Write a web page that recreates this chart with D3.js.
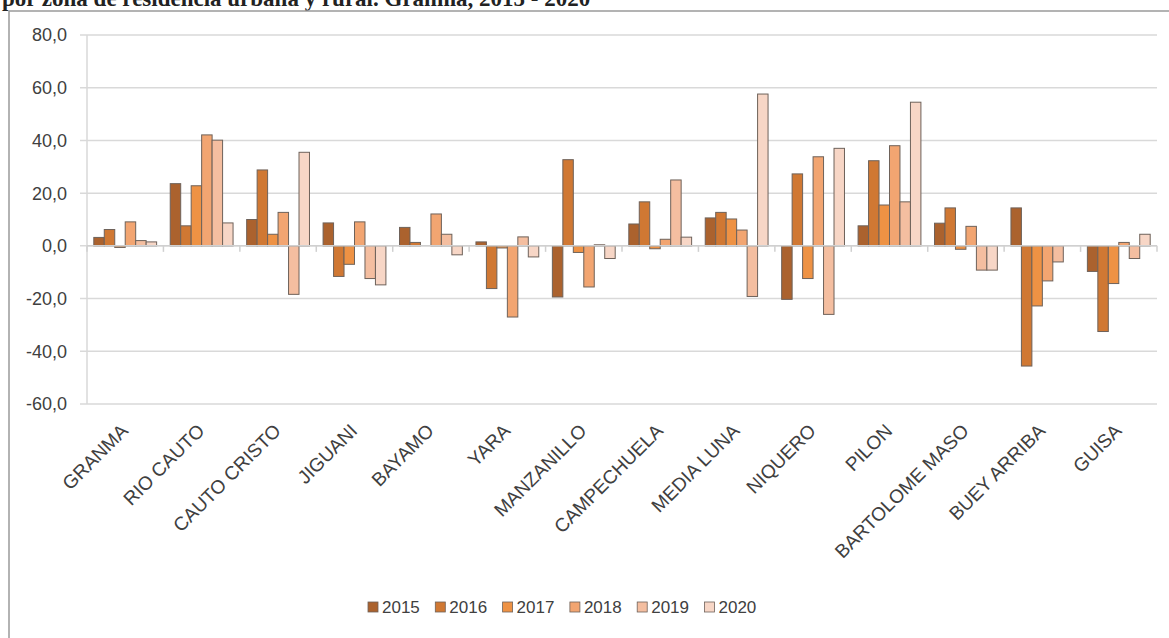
<!DOCTYPE html>
<html>
<head>
<meta charset="utf-8">
<script src="https://cdnjs.cloudflare.com/ajax/libs/d3/7.8.5/d3.min.js"></script>
<style>
  body { margin: 0; background: #fff; }
  svg { display: block; }
</style>
</head>
<body>
<div id="chart"></div>
<script>
var municipios = ["GRANMA", "RIO CAUTO", "CAUTO CRISTO", "JIGUANI", "BAYAMO", "YARA",
    "MANZANILLO", "CAMPECHUELA", "MEDIA LUNA", "NIQUERO", "PILON", "BARTOLOME MASO",
    "BUEY ARRIBA", "GUISA"];
var years = ["2015", "2016", "2017", "2018", "2019", "2020"];

var v2015 = [3.2, 23.6, 10.0, 8.7, 7.0, 1.5, -19.4, 8.3, 10.6, -20.3, 7.6, 8.6, 14.4, -9.7];
var v2016 = [6.2, 7.6, 28.8, -11.6, 1.3, -16.2, 32.7, 16.7, 12.7, 27.3, 32.3, 14.4, -45.6, -32.5];
var v2017 = [-0.6, 22.8, 4.4, -7.0, 0.0, -0.8, -2.5, -1.1, 10.2, -12.4, 15.5, -1.3, -22.8, -14.3];
var v2018 = [9.1, 42.1, 12.7, 9.1, 12.1, -27.0, -15.6, 2.5, 6.0, 33.8, 38.0, 7.4, -13.3, 1.3];
var v2019 = [2.0, 40.1, -18.4, -12.4, 4.4, 3.4, 0.4, 25.0, -19.2, -26.0, 16.7, -9.2, -6.1, -4.8];
var v2020 = [1.5, 8.7, 35.5, -14.8, -3.4, -4.2, -4.8, 3.3, 57.6, 37.0, 54.5, -9.2, 0.0, 4.4];
var yTicks = [80, 60, 40, 20, 0, -20, -40, -60];

var series = [v2015, v2016, v2017, v2018, v2019, v2020];
var colors = ["#ab622e", "#d07833", "#ee9244", "#f2a571", "#f4bea0", "#f7d6c6"];

var W = 1169, H = 638;
var svg = d3.select("#chart").append("svg").attr("width", W).attr("height", H);
var font = "'Liberation Sans', Arial, sans-serif";

// caption line, cut off by the top of the picture as in the source
svg.append("text")
    .attr("x", 2).attr("y", 6)
    .attr("font-family", "'Liberation Serif', 'Times New Roman', serif")
    .attr("font-size", 23).attr("font-weight", "bold").attr("fill", "#222")
    .text("por zona de residencia urbana y rural. Granma, 2015 - 2020");

svg.append("rect")
    .attr("x", 9).attr("y", 11).attr("width", 1170).attr("height", 640)
    .attr("fill", "none").attr("stroke", "#9a9a9a").attr("stroke-width", 1.5);

var x = d3.scaleBand().domain(municipios).range([87, 1157]);
var y = d3.scaleLinear().domain([-60, 80]).range([404, 35]);
var step = x.bandwidth();
var bw = step * 0.137;
var xs = d3.scaleBand().domain(years).range([(step - 6 * bw) / 2, (step + 6 * bw) / 2]);

// gridlines
svg.append("g").selectAll("line").data(yTicks).enter().append("line")
    .attr("x1", 80).attr("x2", 1157)
    .attr("y1", function(d) { return y(d); }).attr("y2", function(d) { return y(d); })
    .attr("stroke", "#d9d9d9").attr("stroke-width", 1.5);

svg.append("line")
    .attr("x1", 87).attr("x2", 87).attr("y1", y(80)).attr("y2", y(-60))
    .attr("stroke", "#d9d9d9").attr("stroke-width", 1.5);

// y labels
svg.append("g").selectAll("text").data(yTicks).enter().append("text")
    .attr("x", 67).attr("y", function(d) { return y(d); }).attr("dy", "0.36em")
    .attr("text-anchor", "end")
    .attr("font-family", font).attr("font-size", 18).attr("fill", "#404040")
    .text(function(d) { return d3.format(".1f")(d).replace(".", ",").replace("−", "-"); });

// bars
series.forEach(function(vals, i) {
    svg.append("g").selectAll("rect").data(vals).enter().append("rect")
        .attr("x", function(d, j) { return x(municipios[j]) + xs(years[i]); })
        .attr("width", xs.bandwidth())
        .attr("y", function(d) { return y(Math.max(0, d)); })
        .attr("height", function(d) { return Math.abs(y(d) - y(0)); })
        .attr("fill", colors[i])
        .attr("stroke", "#6e625a").attr("stroke-width", 1);
});

// category axis on zero line
svg.append("line")
    .attr("x1", 87).attr("x2", 1157).attr("y1", y(0)).attr("y2", y(0))
    .attr("stroke", "#d0d0d0").attr("stroke-width", 1.5);
svg.append("g").selectAll("line").data(d3.range(municipios.length + 1)).enter().append("line")
    .attr("x1", function(d) { return 87 + d * step; }).attr("x2", function(d) { return 87 + d * step; })
    .attr("y1", y(0)).attr("y2", y(0) + 6)
    .attr("stroke", "#d0d0d0").attr("stroke-width", 1.5);

// category labels
svg.append("g").selectAll("text").data(municipios).enter().append("text")
    .attr("transform", function(d) {
        return "translate(" + (x(d) + step / 2 + 4) + "," + 432 + ") rotate(-45)";
    })
    .attr("text-anchor", "end")
    .attr("font-family", font).attr("font-size", 19).attr("fill", "#404040")
    .text(function(d) { return d; });

// legend
var leg = svg.append("g").attr("transform", "translate(368,602)");
var item = leg.selectAll("g").data(years).enter().append("g")
    .attr("transform", function(d, i) { return "translate(" + (i * 67.3) + ",0)"; });
item.append("rect")
    .attr("width", 10).attr("height", 10)
    .attr("fill", function(d, i) { return colors[i]; })
    .attr("stroke", "#6e625a").attr("stroke-width", 0.8);
item.append("text")
    .attr("x", 14).attr("y", 5).attr("dy", "0.36em")
    .attr("font-family", font).attr("font-size", 17).attr("fill", "#404040")
    .text(function(d) { return d; });
</script>
</body>
</html>
